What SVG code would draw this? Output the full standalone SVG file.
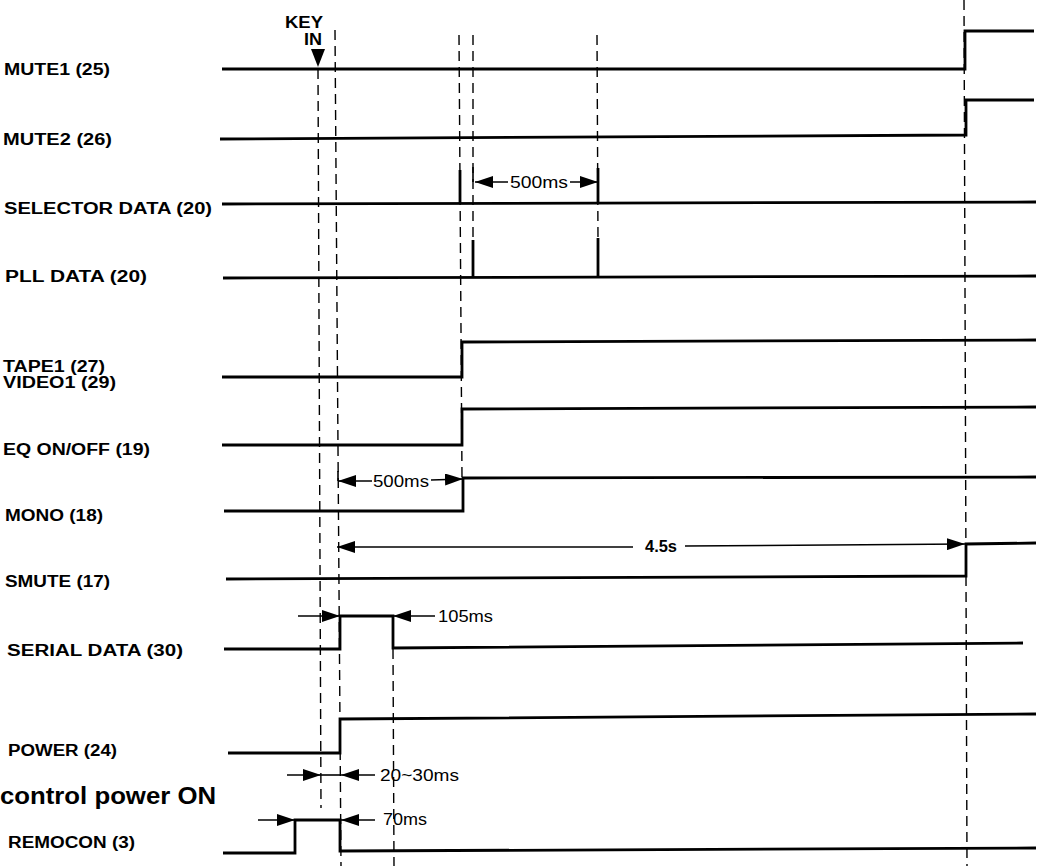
<svg xmlns="http://www.w3.org/2000/svg" width="1038" height="866" viewBox="0 0 1038 866">
<style>
.lbl{font-family:"Liberation Sans",Arial,sans-serif;font-weight:bold;font-size:16px;fill:#000}
.ann{font-family:"Liberation Sans",Arial,sans-serif;font-size:16px;fill:#000}
.big{font-family:"Liberation Sans",Arial,sans-serif;font-weight:bold;font-size:24px;fill:#000}
.sig{fill:none;stroke:#000;stroke-width:2.8;stroke-linejoin:miter;stroke-linecap:butt}
.dash{fill:none;stroke:#000;stroke-width:1.4;stroke-dasharray:10 6}
.arr{fill:none;stroke:#000;stroke-width:1.5;marker-end:url(#ah)}
.tick{fill:none;stroke:#000;stroke-width:1.6}
</style>
<defs>
<marker id="ah" viewBox="0 0 18 12" refX="18" refY="6" markerWidth="18" markerHeight="12" markerUnits="userSpaceOnUse" orient="auto">
<path d="M0,0 L18,6 L0,12 z" fill="#000"/>
</marker>
</defs>
<rect width="1038" height="866" fill="#fff"/>

<g id="connectors">
<line class="dash" x1="318" y1="69" x2="321" y2="808"/>
<line class="dash" x1="335" y1="30" x2="341" y2="866"/>
<line class="dash" x1="459" y1="35" x2="462" y2="478"/>
<line class="dash" x1="473" y1="35" x2="473" y2="240"/>
<line class="dash" x1="597" y1="35" x2="598" y2="240"/>
<line class="dash" x1="964" y1="0" x2="967" y2="866"/>
<line class="dash" x1="393" y1="649" x2="394" y2="866"/>

<line class="tick" x1="473" y1="167" x2="473" y2="182"/>
<line class="arr" x1="508" y1="182" x2="475" y2="182"/>
<line class="arr" x1="570" y1="182" x2="598" y2="182"/>

<line class="tick" x1="338" y1="471" x2="338" y2="481"/>
<line class="arr" x1="372" y1="481" x2="338" y2="481"/>
<line class="arr" x1="431" y1="480" x2="463" y2="479"/>

<line class="arr" x1="633" y1="547" x2="337" y2="547"/>
<line class="arr" x1="685" y1="546" x2="965" y2="544"/>

<line class="arr" x1="298" y1="616" x2="340" y2="616"/>
<line class="arr" x1="435" y1="616" x2="393" y2="616"/>

<line class="arr" x1="287" y1="775" x2="321" y2="775"/>
<line class="tick" x1="321" y1="775" x2="341" y2="775"/>
<line class="arr" x1="375" y1="775" x2="341" y2="775"/>

<line class="arr" x1="258" y1="820" x2="295" y2="820"/>
<line class="arr" x1="375" y1="820" x2="341" y2="820"/>
</g>

<g id="key-in">
<text class="lbl" x="285" y="28" textLength="38" lengthAdjust="spacingAndGlyphs">KEY</text>
<text class="lbl" x="304" y="45" textLength="18" lengthAdjust="spacingAndGlyphs">IN</text>
<path d="M311,49 L325,49 L318,67 z" fill="#000"/>
</g>

<g id="annotations">
<text class="ann" x="510" y="188" textLength="58" lengthAdjust="spacingAndGlyphs">500ms</text>
<text class="ann" x="373" y="487" textLength="56" lengthAdjust="spacingAndGlyphs">500ms</text>
<text class="ann" x="645" y="552" font-weight="bold" textLength="32" lengthAdjust="spacingAndGlyphs">4.5s</text>
<text class="ann" x="438" y="622" textLength="55" lengthAdjust="spacingAndGlyphs">105ms</text>
<text class="ann" x="380" y="781" textLength="79" lengthAdjust="spacingAndGlyphs">20~30ms</text>
<text class="ann" x="383" y="825" textLength="44" lengthAdjust="spacingAndGlyphs">70ms</text>
<text class="big" x="0" y="804" textLength="216" lengthAdjust="spacingAndGlyphs">control power ON</text>
</g>

<g id="mute1">
<text class="lbl" x="4" y="75" textLength="106" lengthAdjust="spacingAndGlyphs">MUTE1 (25)</text>
<polyline class="sig" points="222,69 965,69 965,31 1034,31"/>
</g>
<g id="mute2">
<text class="lbl" x="3" y="145" textLength="109" lengthAdjust="spacingAndGlyphs">MUTE2 (26)</text>
<polyline class="sig" points="220,139 966,135 966,100 1034,100"/>
</g>
<g id="selector-data">
<text class="lbl" x="4" y="214" textLength="208" lengthAdjust="spacingAndGlyphs">SELECTOR  DATA (20)</text>
<polyline class="sig" points="222,204 1036,202"/>
<line class="sig" x1="460" y1="170" x2="460" y2="204"/>
<line class="sig" x1="598" y1="168" x2="598" y2="203"/>
</g>
<g id="pll-data">
<text class="lbl" x="5" y="282" textLength="142" lengthAdjust="spacingAndGlyphs">PLL  DATA (20)</text>
<polyline class="sig" points="223,278 1036,276"/>
<line class="sig" x1="473" y1="240" x2="473" y2="278"/>
<line class="sig" x1="598" y1="238" x2="598" y2="277"/>
</g>
<g id="tape1-video1">
<text class="lbl" x="3" y="372" textLength="102" lengthAdjust="spacingAndGlyphs">TAPE1 (27)</text>
<text class="lbl" x="3" y="388" textLength="113" lengthAdjust="spacingAndGlyphs">VIDEO1 (29)</text>
<polyline class="sig" points="222,377 462,377 462,342 1036,340"/>
</g>
<g id="eq-on-off">
<text class="lbl" x="3" y="455" textLength="147" lengthAdjust="spacingAndGlyphs">EQ ON/OFF (19)</text>
<polyline class="sig" points="222,445 462,445 462,409 1036,407"/>
</g>
<g id="mono">
<text class="lbl" x="5" y="521" textLength="98" lengthAdjust="spacingAndGlyphs">MONO (18)</text>
<polyline class="sig" points="224,511 463,511 463,478 1036,477"/>
</g>
<g id="smute">
<text class="lbl" x="5" y="587" textLength="105" lengthAdjust="spacingAndGlyphs">SMUTE (17)</text>
<polyline class="sig" points="226,579 966,576 966,544 1036,543"/>
</g>
<g id="serial-data">
<text class="lbl" x="7" y="656" textLength="176" lengthAdjust="spacingAndGlyphs">SERIAL  DATA (30)</text>
<polyline class="sig" points="224,649 340,649 340,616 393,616 393,648 1023,643"/>
</g>
<g id="power">
<text class="lbl" x="8" y="756" textLength="109" lengthAdjust="spacingAndGlyphs">POWER (24)</text>
<polyline class="sig" points="228,753 340,753 340,719 1036,714"/>
</g>
<g id="remocon">
<text class="lbl" x="8" y="848" textLength="127" lengthAdjust="spacingAndGlyphs">REMOCON (3)</text>
<polyline class="sig" points="223,853 295,853 295,820 340,820 340,851 1036,848"/>
</g>
</svg>
